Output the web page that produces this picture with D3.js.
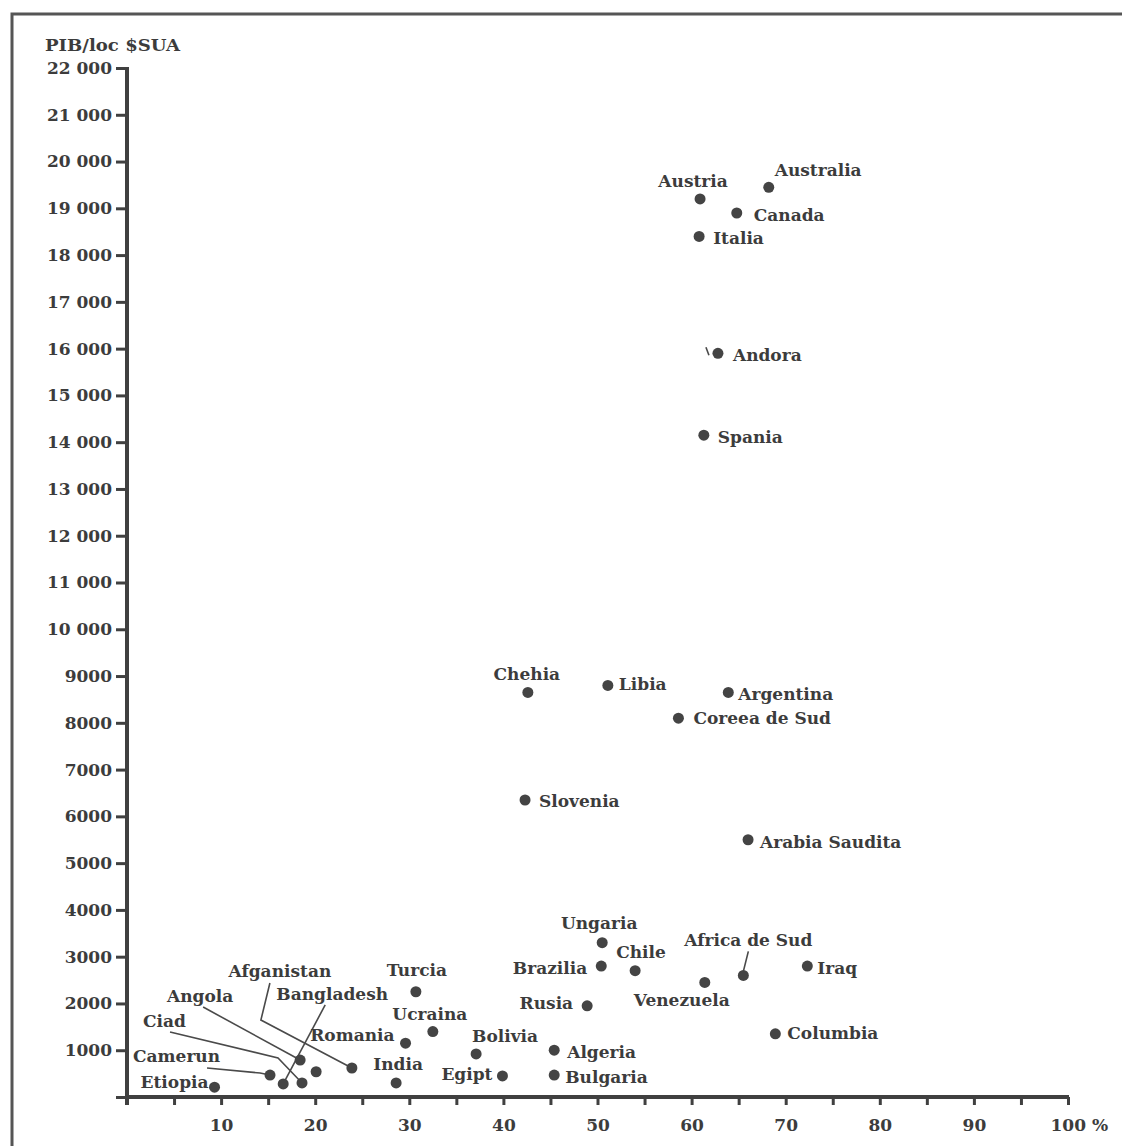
<!DOCTYPE html>
<html>
<head>
<meta charset="utf-8">
<script src="https://cdn.jsdelivr.net/npm/d3@7"></script>
<style>
  html, body { margin: 0; padding: 0; background: #fff; }
  svg { display: block; }
  text { font-family: "DejaVu Serif", serif; font-weight: bold; fill: #3c3c3c; }
</style>
</head>
<body>
<svg id="chart" width="1122" height="1146"></svg>
<script>
// ---- data ----
const countries = ["Austria","Australia","Canada","Italia","Andora","Spania",
  "Chehia","Libia","Argentina","Coreea de Sud","Slovenia","Arabia Saudita",
  "Ungaria","Chile","Brazilia","Africa de Sud","Iraq","Venezuela","Rusia","Columbia",
  "Bolivia","Algeria","Egipt","Bulgaria","Turcia","Ucraina","Romania","India",
  "Etiopia","Camerun","Angola","Ciad","Bangladesh","","Afganistan"];
// urban population share (%)
const urbanShare = [60.9,68.2,64.8,60.8,62.8,61.3,
  42.6,51.1,63.9,58.6,42.3,66.0,
  50.5,54.0,50.4,65.5,72.3,61.4,48.9,68.9,
  37.1,45.4,39.9,45.4,30.7,32.5,29.6,28.6,
  9.3,15.2,18.4,18.6,16.6,20.1,23.9];
// GDP per capita (USD)
const gdpPerCapita = [19200,19450,18900,18400,15900,14150,
  8650,8800,8650,8100,6350,5500,
  3300,2700,2800,2600,2800,2450,1950,1350,
  920,1000,450,470,2250,1400,1150,300,
  210,470,790,300,280,540,620];
const yTicks = d3.range(0, 22001, 1000);
const xTicks = d3.range(0, 101, 5);
const yAxisTitle = "PIB/loc $SUA";

// ---- label layout (pixel offsets from each dot) ----
const labelLayout = {
  "Austria":        {a:"middle", dx:-7,  dy:-12},
  "Australia":      {a:"start",  dx:6,   dy:-11},
  "Canada":         {a:"start",  dx:17,  dy:8},
  "Italia":         {a:"start",  dx:14,  dy:8},
  "Andora":         {a:"start",  dx:15,  dy:8, leader:[[-12,-6],[-9,2]]},
  "Spania":         {a:"start",  dx:14,  dy:8},
  "Chehia":         {a:"middle", dx:-1,  dy:-12},
  "Libia":          {a:"start",  dx:11,  dy:5},
  "Argentina":      {a:"start",  dx:10,  dy:8},
  "Coreea de Sud":  {a:"start",  dx:15,  dy:6},
  "Slovenia":       {a:"start",  dx:14,  dy:7},
  "Arabia Saudita": {a:"start",  dx:12,  dy:8},
  "Ungaria":        {a:"middle", dx:-3,  dy:-14},
  "Chile":          {a:"start",  dx:-19, dy:-13},
  "Brazilia":       {a:"end",    dx:-14, dy:8},
  "Africa de Sud":  {a:"middle", dx:5,   dy:-29, leader:[[5,-24],[0,-4]]},
  "Iraq":           {a:"start",  dx:10,  dy:8},
  "Venezuela":      {a:"middle", dx:-23, dy:24},
  "Rusia":          {a:"end",    dx:-14, dy:3},
  "Columbia":       {a:"start",  dx:12,  dy:5},
  "Bolivia":        {a:"middle", dx:29,  dy:-12},
  "Algeria":        {a:"start",  dx:13,  dy:8},
  "Egipt":          {a:"end",    dx:-10, dy:4},
  "Bulgaria":       {a:"start",  dx:11,  dy:8},
  "Turcia":         {a:"middle", dx:1,   dy:-16},
  "Ucraina":        {a:"middle", dx:-3,  dy:-12},
  "Romania":        {a:"end",    dx:-11, dy:-2},
  "India":          {a:"middle", dx:2,   dy:-13},
  "Etiopia":        {a:"end",    dx:-6,  dy:1},
  "Camerun":        {a:"start",  dx:-137,dy:-13, leader:[[-63,-7],[-10,-2],[0,0]]},
  "Ciad":           {a:"start",  dx:-159,dy:-56, leader:[[-132,-51],[-24,-25],[0,0]]},
  "Angola":         {a:"middle", dx:-100,dy:-58, leader:[[-97,-53],[0,0]]},
  "Afganistan":     {a:"middle", dx:-72, dy:-91, leader:[[-82,-85],[-91,-48],[0,0]]},
  "Bangladesh":     {a:"middle", dx:49,  dy:-84, leader:[[42,-79],[0,0]]}
};

const svg = d3.select("#chart");
const ink = "#404040";

// frame (left and top edges of the scanned box)
svg.append("path")
  .attr("d", "M12,1146 L12,14 L1122,14")
  .attr("fill", "none").attr("stroke", "#555").attr("stroke-width", 3);

const x = d3.scaleLinear().domain([0, 100]).range([127, 1068]);
const y = d3.scaleLinear().domain([0, 22000]).range([1097, 68]);

const fmtY = v => v >= 10000 ? d3.format(",")(v).replace(",", " ") : String(v);

// y axis
const yAxis = svg.append("g").attr("transform", `translate(${x(0)},0)`)
  .call(d3.axisLeft(y).tickValues(yTicks).tickSize(11).tickPadding(4)
    .tickFormat(v => v === 0 ? "" : fmtY(v)));
yAxis.select(".domain").remove();
yAxis.selectAll(".tick line").attr("stroke", ink).attr("stroke-width", 3);
yAxis.selectAll(".tick text").attr("font-size", 17).attr("font-family", null).attr("fill", "#3c3c3c");
svg.append("line")
  .attr("x1", x(0)).attr("x2", x(0)).attr("y1", y(22000) - 1).attr("y2", y(0) + 8)
  .attr("stroke", ink).attr("stroke-width", 4);

// x axis
const xAxis = svg.append("g").attr("transform", `translate(0,${y(0)})`)
  .call(d3.axisBottom(x).tickValues(xTicks).tickSize(8).tickPadding(14)
    .tickFormat(v => (v % 10 === 0 && v > 0) ? (v === 100 ? "100 %" : String(v)) : ""));
xAxis.select(".domain").remove();
xAxis.selectAll(".tick line").attr("stroke", ink).attr("stroke-width", 3);
xAxis.selectAll(".tick text").attr("font-size", 17).attr("font-family", null).attr("fill", "#3c3c3c");
xAxis.selectAll(".tick text").filter(d => d === 100)
  .attr("text-anchor", "start").attr("x", -18);
svg.append("line")
  .attr("x1", x(0)).attr("x2", x(100) + 1).attr("y1", y(0)).attr("y2", y(0))
  .attr("stroke", ink).attr("stroke-width", 4);

// axis title
svg.append("text").attr("x", 45).attr("y", 51)
  .attr("font-size", 16).attr("textLength", 135).attr("lengthAdjust", "spacingAndGlyphs")
  .text(yAxisTitle);

const points = countries.map((c, i) => ({ name: c, u: urbanShare[i], g: gdpPerCapita[i] }));

// leader lines
const line = d3.line();
const withLeader = points.filter(p => labelLayout[p.name] && labelLayout[p.name].leader);
svg.append("g").selectAll("path").data(withLeader).join("path")
  .attr("d", p => line(labelLayout[p.name].leader.map(([dx, dy]) => [x(p.u) + dx, y(p.g) + dy])))
  .attr("fill", "none").attr("stroke", "#4a4a4a").attr("stroke-width", 1.6);

// dots
svg.append("g").selectAll("circle").data(points).join("circle")
  .attr("cx", p => x(p.u)).attr("cy", p => y(p.g)).attr("r", 5.5)
  .attr("fill", "#444");

// labels
svg.append("g").selectAll("text").data(points.filter(p => p.name)).join("text")
  .attr("x", p => x(p.u) + labelLayout[p.name].dx)
  .attr("y", p => y(p.g) + labelLayout[p.name].dy)
  .attr("text-anchor", p => labelLayout[p.name].a)
  .attr("font-size", 17)
  .text(p => p.name);
</script>
</body>
</html>
